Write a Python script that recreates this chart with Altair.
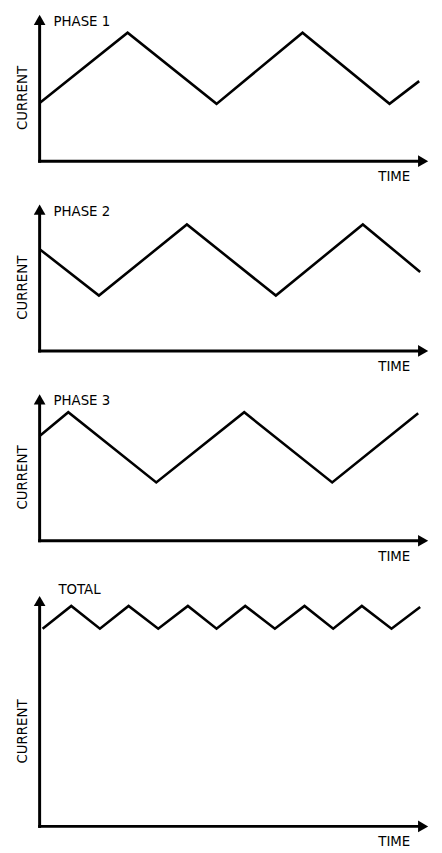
import altair as alt
import pandas as pd

FONT = "DejaVu Sans Condensed, Roboto, Liberation Sans, sans-serif"

# ---- data (time units, current units) ----
p1_t = [0, 89, 179, 266, 354, 384]
p1_i = [59, 130, 58, 130, 58, 81]

p2_t = [0, 60, 149, 239, 327, 385]
p2_i = [103, 56, 128, 56, 128, 80]

p3_t = [0, 29, 118, 207, 296, 383]
p3_i = [106, 130, 59, 130, 59, 129]

tot_t = [3, 32, 61, 90, 120, 150, 179, 208, 238, 268, 297, 326, 356, 385]
tot_i = [200, 223, 200, 223, 200, 223, 200, 223, 200, 223, 200, 223, 200, 222]

names = ["PHASE 1", "PHASE 2", "PHASE 3", "TOTAL"]
y_tops = [148, 148, 148, 233]      # top of the current axis (arrow tip)
heights = [148, 148, 148, 245]     # plotted range of each panel
name_pos = [(14, 142), (14, 142), (14, 142), (19, 240)]
current_pos = [64, 64, 64, 96]

X_MAX = 393
W = 393


def panel(t, cur, name, npos, cpos, y_top, height):
    xs = alt.Scale(domain=[0, X_MAX], nice=False, zero=False)
    ys = alt.Scale(domain=[0, height], nice=False, zero=False)

    wave = pd.DataFrame({"t": t, "i": cur})
    line = alt.Chart(wave).mark_line(
        color="black", strokeWidth=2.6, strokeJoin="miter"
    ).encode(
        x=alt.X("t:Q", scale=xs, axis=None),
        y=alt.Y("i:Q", scale=ys, axis=None),
    )

    axes_df = pd.DataFrame({
        "x": [0, 0], "y": [0, 0],
        "x2": [X_MAX - 8, 0], "y2": [0, y_top - 8],
    })
    axes = alt.Chart(axes_df).mark_rule(
        color="black", strokeWidth=3, strokeCap="square"
    ).encode(
        x=alt.X("x:Q", scale=xs, axis=None),
        y=alt.Y("y:Q", scale=ys, axis=None),
        x2="x2:Q", y2="y2:Q",
    )

    heads_df = pd.DataFrame({
        "x": [X_MAX - 5, 0], "y": [0, y_top - 5],
        "s": ["triangle-right", "triangle-up"],
    })
    heads = alt.Chart(heads_df).mark_point(
        filled=True, size=140, color="black", opacity=1
    ).encode(
        x=alt.X("x:Q", scale=xs, axis=None),
        y=alt.Y("y:Q", scale=ys, axis=None),
        shape=alt.Shape("s:N", scale=None),
    )

    name_df = pd.DataFrame({"x": [npos[0]], "y": [npos[1]], "txt": [name]})
    name_txt = alt.Chart(name_df).mark_text(
        font=FONT, fontSize=15, align="left", baseline="middle", color="black"
    ).encode(
        x=alt.X("x:Q", scale=xs, axis=None),
        y=alt.Y("y:Q", scale=ys, axis=None),
        text="txt:N",
    )

    time_df = pd.DataFrame({"x": [375], "y": [-15], "txt": ["TIME"]})
    time_txt = alt.Chart(time_df).mark_text(
        font=FONT, fontSize=15, align="right", baseline="middle", color="black"
    ).encode(
        x=alt.X("x:Q", scale=xs, axis=None),
        y=alt.Y("y:Q", scale=ys, axis=None),
        text="txt:N",
    )

    cur_df = pd.DataFrame({"x": [-18], "y": [cpos], "txt": ["CURRENT"]})
    cur_txt = alt.Chart(cur_df).mark_text(
        font=FONT, fontSize=15, align="center", baseline="middle",
        angle=270, color="black"
    ).encode(
        x=alt.X("x:Q", scale=xs, axis=None),
        y=alt.Y("y:Q", scale=ys, axis=None),
        text="txt:N",
    )

    return alt.layer(axes, heads, line, name_txt, time_txt, cur_txt).properties(
        width=W, height=height
    )


series = [(p1_t, p1_i), (p2_t, p2_i), (p3_t, p3_i), (tot_t, tot_i)]
panels = [
    panel(t, i, names[k], name_pos[k], current_pos[k], y_tops[k], heights[k])
    for k, (t, i) in enumerate(series)
]

chart = alt.vconcat(*panels, spacing=44, bounds="flush").properties(
    padding={"left": 7, "top": 1, "right": 5, "bottom": 5}
).configure_view(stroke=None)

chart.save("out.html", embed_options={"renderer": "svg", "actions": False})
